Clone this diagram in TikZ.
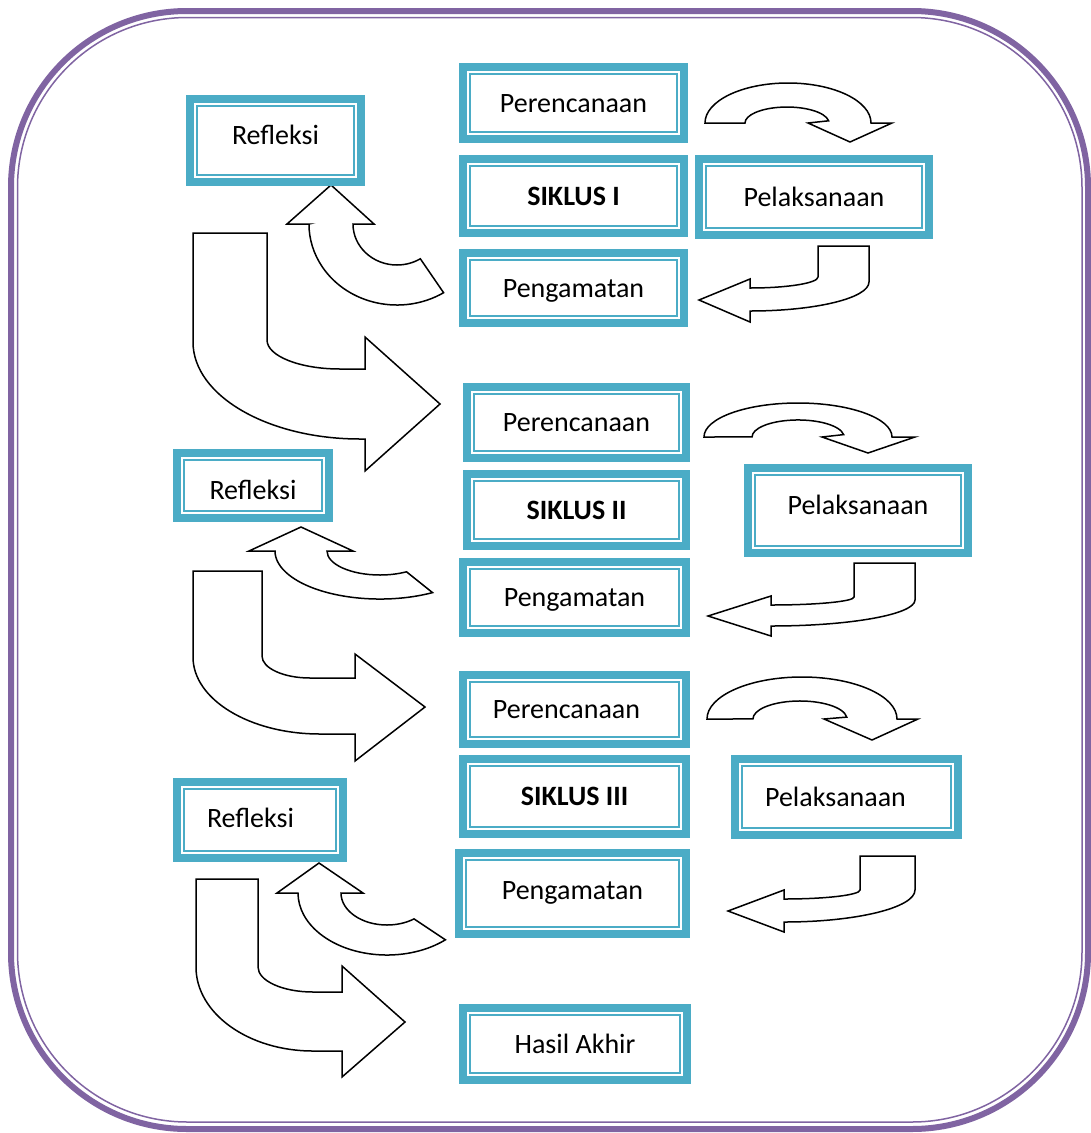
\documentclass[tikz,border=0pt]{standalone}
\usepackage{fontspec}
\setmainfont{Carlito}
\definecolor{tealc}{HTML}{4BACC6}
\definecolor{purp}{HTML}{8064A2}
\tikzset{
  bx/.style={draw=tealc, line width=8pt, fill=white, inner sep=0pt,
    text height=22.5pt, text depth=4.5pt, font=\fontsize{28}{33}\selectfont,
    path picture={\draw[tealc,line width=2pt]
      ([shift={(7pt,7pt)}]path picture bounding box.south west) rectangle
      ([shift={(-7pt,-7pt)}]path picture bounding box.north east);}},
  blk/.style={draw=black, line width=1.5pt, fill=white, line join=miter},
  framethick/.style={draw=purp, line width=6pt},
  framethin/.style={draw=purp, line width=1.5pt}
}
\begin{document}
\begin{tikzpicture}[x=1pt,y=-1pt]
\useasboundingbox (0,0) rectangle (1091,1133);
% outer frame
\draw[framethick, rounded corners=176pt] (11,11) rectangle (1088,1129);
\draw[framethin, rounded corners=170pt] (17.5,17.5) rectangle (1082,1122);

% ---------- block arrows ----------
% cycle I
\draw[blk] (705,123) arc[start angle=180,end angle=0,x radius=83pt,y radius=40pt]
  -- (892,123) -- (850,142) -- (808,123) -- (828.6,120.8)
  arc[start angle=8,end angle=180,x radius=42pt,y radius=16pt] -- cycle;
\draw[blk] (818,246) -- (869,246) -- (869,282)
  arc[start angle=0,end angle=-90,x radius=119pt,y radius=29pt]
  -- (750,322) -- (699,300) -- (750,279) -- (750,288)
  arc[start angle=-90,end angle=0,x radius=68pt,y radius=11pt] -- cycle;
\draw[blk] (309,224) -- (287,224) -- (331,185) -- (374,224) -- (353,224)
  arc[start angle=180,end angle=302,x radius=44pt,y radius=41pt]
  -- (443.6,292.7)
  arc[start angle=302,end angle=180,x radius=88pt,y radius=81pt] -- cycle;
\draw[blk] (193,233) -- (267,233) -- (267,340)
  arc[start angle=180,end angle=270,x radius=73pt,y radius=29pt]
  -- (365,369) -- (365,337) -- (440,404) -- (365,471) -- (365,439) -- (360,439)
  arc[start angle=270,end angle=180,x radius=167pt,y radius=97pt] -- cycle;
% cycle II
\draw[blk] (704,437) arc[start angle=180,end angle=0,x radius=94pt,y radius=34pt]
  -- (915,437) -- (868,453) -- (822,437) -- (843.6,434.6)
  arc[start angle=8,end angle=180,x radius=46pt,y radius=17pt] -- cycle;
\draw[blk] (854,563) -- (915,563) -- (915,600)
  arc[start angle=0,end angle=-90,x radius=144pt,y radius=26pt]
  -- (771,636) -- (708,616) -- (771,596) -- (771,605)
  arc[start angle=-90,end angle=0,x radius=83pt,y radius=8pt] -- cycle;
\draw[blk] (275,551) -- (249,551) -- (301,527) -- (353,551) -- (327,551)
  arc[start angle=180,end angle=300,x radius=53pt,y radius=24pt]
  -- (432.5,592.6)
  arc[start angle=300,end angle=180,x radius=105pt,y radius=48pt] -- cycle;
\draw[blk] (193,571) -- (262,571) -- (262,656)
  arc[start angle=180,end angle=270,x radius=48pt,y radius=22pt]
  -- (355,678) -- (355,654) -- (425,707) -- (355,761) -- (355,734) -- (320,734)
  arc[start angle=270,end angle=180,x radius=127pt,y radius=77pt] -- cycle;
% cycle III
\draw[blk] (707,719) arc[start angle=180,end angle=0,x radius=95pt,y radius=42pt]
  -- (918,719) -- (872,740) -- (824,719) -- (846.7,717.1)
  arc[start angle=6,end angle=180,x radius=47pt,y radius=18pt] -- cycle;
\draw[blk] (860,856) -- (915,856) -- (915,890)
  arc[start angle=0,end angle=-90,x radius=131pt,y radius=32pt]
  -- (784,932) -- (728,911) -- (784,890) -- (784,899)
  arc[start angle=-90,end angle=0,x radius=76pt,y radius=9pt] -- cycle;
\draw[blk] (298,893) -- (277,893) -- (319,863) -- (363,893) -- (341,893)
  arc[start angle=180,end angle=306,x radius=46pt,y radius=32pt]
  -- (445.4,939.8)
  arc[start angle=311,end angle=180,x radius=89pt,y radius=62pt] -- cycle;
\draw[blk] (196,879) -- (258,879) -- (258,967)
  arc[start angle=180,end angle=270,x radius=55pt,y radius=25pt]
  -- (342,992) -- (342,966) -- (405,1022) -- (342,1077) -- (342,1051) -- (313,1051)
  arc[start angle=270,end angle=180,x radius=117pt,y radius=84pt] -- cycle;

% ---------- boxes ----------
\node[bx, minimum width=221pt, minimum height=72pt] (p1) at (573.5,103) {Perencanaan};
\node[bx, minimum width=221pt, minimum height=74pt] (s1) at (573.5,196) {\bfseries SIKLUS I};
\node[bx, minimum width=230pt, minimum height=76pt] (l1) at (814,197) {Pelaksanaan};
\node[bx, minimum width=221pt, minimum height=70pt] (g1) at (573.5,288) {Pengamatan};
\node[bx, minimum width=171pt, minimum height=83pt] (r1) at (275.5,140.5) {\raisebox{5pt}{Refleksi}};

\node[bx, minimum width=219pt, minimum height=71pt] (p2) at (576.5,422.5) {Perencanaan};
\node[bx, minimum width=219pt, minimum height=72pt] (s2) at (576.5,510) {\bfseries SIKLUS II};
\node[bx, minimum width=220pt, minimum height=85pt] (l2) at (858,510.5) {\raisebox{5.5pt}{Pelaksanaan}};
\node[bx, minimum width=223pt, minimum height=71pt] (g2) at (574.5,597.5) {Pengamatan};
\node[bx, minimum width=152pt, minimum height=65pt] (r2) at (253,485.5) {\raisebox{-4.5pt}{Refleksi}};

\node[bx, minimum width=223pt, minimum height=69pt] (p3) at (574.5,709.5) {Perencanaan\hspace*{16pt}};
\node[bx, minimum width=223pt, minimum height=75pt] (s3) at (574.5,796.5) {\bfseries SIKLUS III};
\node[bx, minimum width=223pt, minimum height=76pt] (l3) at (846.5,797) {Pelaksanaan\hspace*{22pt}};
\node[bx, minimum width=227pt, minimum height=81pt] (g3) at (572.5,893.5) {\raisebox{3.5pt}{Pengamatan}};
\node[bx, minimum width=166pt, minimum height=76pt] (r3) at (260,820) {\raisebox{2pt}{Refleksi}\hspace*{19pt}};

\node[bx, minimum width=224pt, minimum height=72pt] (h) at (575,1044) {Hasil Akhir};
\end{tikzpicture}
\end{document}
